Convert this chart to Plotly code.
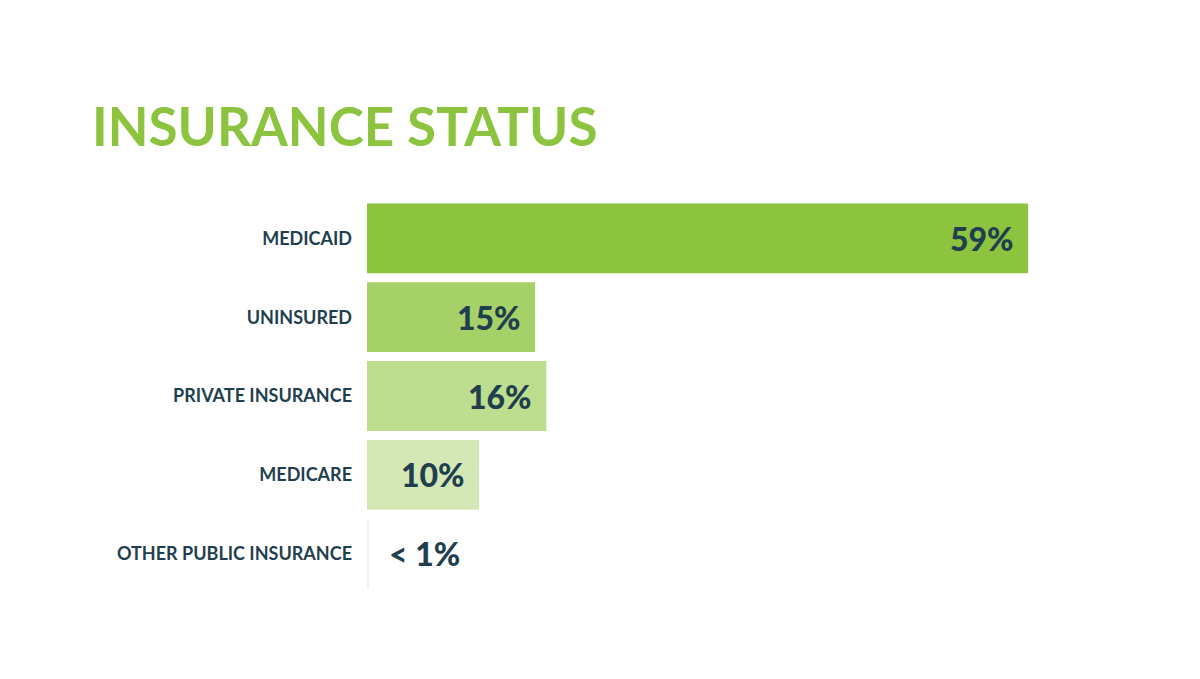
import plotly.graph_objects as go

categories = ["MEDICAID", "UNINSURED", "PRIVATE INSURANCE", "MEDICARE", "OTHER PUBLIC INSURANCE"]
values = [59, 15, 16, 10, 0.2]
value_labels = ["59%", "15%", "16%", "10%", "< 1%"]
bar_colors = ["#8cc43f", "#a6d068", "#bddd8f", "#d4e8b6", "#eef1f4"]

TEXT = "#1f3f4f"
GREEN = "#8cc43f"
FONT = "Lato"

fig = go.Figure(go.Bar(
    y=categories, x=values, orientation="h",
    marker=dict(color=bar_colors, line=dict(width=0)),
    hoverinfo="skip",
))

annotations = []
for cat, v, lab in zip(categories, values, value_labels):
    inside = v >= 5
    annotations.append(dict(
        x=v, y=cat, xref="x", yref="y", text=lab, showarrow=False,
        xanchor="right" if inside else "left", xshift=-12 if inside else 18,
        font=dict(family=FONT, size=32, color=TEXT, weight=900),
    ))

fig.update_layout(
    width=1200, height=679,
    paper_bgcolor="white", plot_bgcolor="white",
    margin=dict(l=359, r=23, t=190.5, b=93.5),
    bargap=0.114,
    showlegend=False,
    title=dict(text="<b>INSURANCE STATUS</b>", xref="container", yref="container",
               x=84/1200, xanchor="left", y=1-119/679, yanchor="middle",
               font=dict(family=FONT, size=53, color=GREEN)),
    xaxis=dict(range=[0, 73], visible=False, fixedrange=True),
    yaxis=dict(autorange="reversed", showgrid=False, zeroline=False, showline=False,
               ticks="", ticklabelstandoff=14,
               tickfont=dict(family=FONT, size=18, color=TEXT)),
    annotations=annotations,
)
fig.update_yaxes(tickvals=categories, ticktext=[f"<b>{c}</b>" for c in categories])

fig.write_html("out.html")
